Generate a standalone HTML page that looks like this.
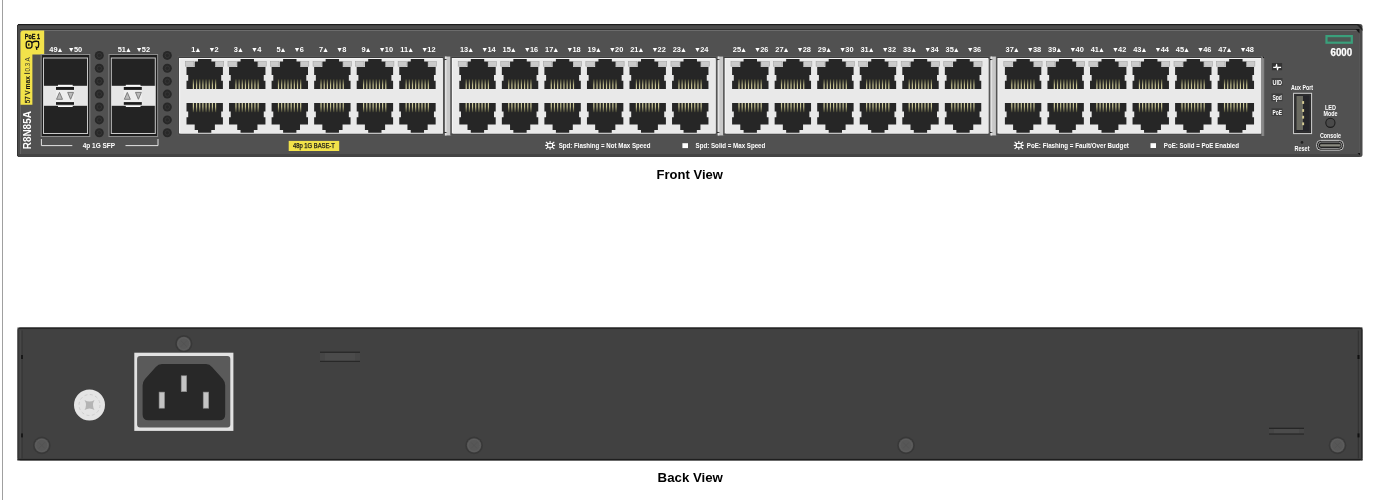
<!DOCTYPE html>
<html><head><meta charset="utf-8"><title>Switch</title>
<style>
html,body{margin:0;padding:0;background:#fff;width:1381px;height:500px;overflow:hidden;}
body{position:relative;font-family:"Liberation Sans", sans-serif;}
svg{position:absolute;left:0;top:0;will-change:transform;}
.cap{position:absolute;font-family:"Liberation Sans", sans-serif;font-weight:bold;font-size:13px;color:#000;white-space:nowrap;}
.vl{position:absolute;left:2px;top:0;width:1px;height:500px;background:#a0a0a0;}
</style></head><body>
<div class="vl"></div>
<svg width="1381" height="500" viewBox="0 0 1381 500" font-family='"Liberation Sans", sans-serif'>
<defs>
<linearGradient id="pinT" x1="0" y1="0" x2="0" y2="1"><stop offset="0" stop-color="#3e3e2c"/><stop offset="0.6" stop-color="#c6c290"/><stop offset="1" stop-color="#d2cfa4"/></linearGradient>
<linearGradient id="pinB" x1="0" y1="0" x2="0" y2="1"><stop offset="0" stop-color="#d2cfa4"/><stop offset="0.4" stop-color="#c6c290"/><stop offset="1" stop-color="#3e3e2c"/></linearGradient>
</defs>
<rect x="17" y="24" width="1345.5" height="133" rx="2.5" fill="#4b4b4b"/>
<rect x="18" y="24" width="1340.5" height="1.2" fill="#1c1c1c"/>
<rect x="17" y="25" width="1" height="131" fill="#333"/>
<rect x="20" y="29" width="1339" height="125" fill="#515151"/>
<rect x="20" y="29" width="1339" height="1" fill="#2f2f2f"/>
<rect x="20" y="30" width="1339" height="1" fill="#6c6c6c"/>
<rect x="20" y="30" width="1" height="124" fill="#646464"/>
<rect x="1359" y="30" width="1" height="124" fill="#575757"/>
<rect x="18" y="154" width="1341" height="3" fill="#444"/>
<path d="M1355.5,29 H1359.5 V33.5 Z" fill="#151515"/>
<path d="M1356,24 Q1361,24.3 1362.5,29 V31 L1360,28 Z" fill="#222"/>
<path d="M1357.5,153 L1360,153 L1360,155.5 Z" fill="#151515"/>
<path d="M20.5,33.5 Q20.5,30.5 23.5,30.5 L44.2,30.5 L44.2,54.4 L32.4,54.4 L32.4,104.8 L20.5,104.8 Z" fill="#f2e24a"/>
<text x="32.4" y="38.5" font-size="6.6" font-weight="bold" fill="#111" text-anchor="middle" textLength="15.2" lengthAdjust="spacingAndGlyphs" stroke="#111" stroke-width="0.3">PoE 1</text>
<g fill="none" stroke="#111" stroke-width="1.3"><path d="M26.2,43.6 Q26.2,41.3 29,41.2 Q31.9,41.2 32,43.6 L32,46 Q31.9,48.2 29,48.2 Q26.2,48.2 26.2,46 Z"/><path d="M32,42.6 Q35.2,40.6 38.4,41.6 Q39.4,44.4 38.3,47 Q37.3,47.9 36.3,47.3 L36.9,49.8"/><path d="M28.8,43.6 v2.2"/></g>
<g transform="translate(29.5,103.2) rotate(-90)"><text x="0" y="0" font-size="6.8" font-weight="normal" fill="#1a1a1a" stroke="#1a1a1a" stroke-width="0.25" textLength="12.6" lengthAdjust="spacingAndGlyphs">57 V</text><text x="13.8" y="0" font-size="6.8" font-weight="bold" fill="#111" textLength="13.4" lengthAdjust="spacingAndGlyphs">max</text><rect x="29.4" y="-5.2" width="0.9" height="5.6" fill="#222"/><text x="31.6" y="0" font-size="6.8" font-weight="normal" fill="#3a3a30" textLength="14.4" lengthAdjust="spacingAndGlyphs">0.3 A</text></g>
<text transform="translate(31.2,149.2) rotate(-90)" font-size="10" font-weight="bold" fill="#fff" textLength="38" lengthAdjust="spacingAndGlyphs">R8N85A</text>
<rect x="41.2" y="54.5" width="48.6" height="82" fill="#1e1e1e" stroke="#8c8c8c" stroke-width="1"/>
<rect x="43.5" y="58.0" width="44.0" height="75.5" fill="#232323" stroke="#c8c8c8" stroke-width="1"/>
<rect x="43.5" y="85.8" width="44.0" height="20" fill="#e6e6e6"/>
<rect x="56.0" y="89.9" width="18" height="12.2" fill="#eeeeee"/>
<rect x="58.0" y="84.8" width="14.7" height="1.4" fill="#fafafa"/>
<rect x="56.0" y="87" width="18" height="2.9" fill="#1a1a1a"/>
<rect x="56.0" y="102.1" width="18" height="2.7" fill="#1a1a1a"/>
<rect x="58.0" y="105.6" width="14.7" height="1.4" fill="#fafafa"/>
<polygon points="56.5,99.3 59.5,92.4 62.5,99.3" fill="#bbbbbb" stroke="#747474" stroke-width="0.9"/>
<polygon points="67.7,92.4 73.5,92.4 70.6,99.3" fill="#bbbbbb" stroke="#747474" stroke-width="0.9"/>
<rect x="109" y="54.5" width="48.6" height="82" fill="#1e1e1e" stroke="#8c8c8c" stroke-width="1"/>
<rect x="111.3" y="58.0" width="44.0" height="75.5" fill="#232323" stroke="#c8c8c8" stroke-width="1"/>
<rect x="111.3" y="85.8" width="44.0" height="20" fill="#e6e6e6"/>
<rect x="123.8" y="89.9" width="18" height="12.2" fill="#eeeeee"/>
<rect x="125.8" y="84.8" width="14.7" height="1.4" fill="#fafafa"/>
<rect x="123.8" y="87" width="18" height="2.9" fill="#1a1a1a"/>
<rect x="123.8" y="102.1" width="18" height="2.7" fill="#1a1a1a"/>
<rect x="125.8" y="105.6" width="14.7" height="1.4" fill="#fafafa"/>
<polygon points="124.3,99.3 127.3,92.4 130.3,99.3" fill="#bbbbbb" stroke="#747474" stroke-width="0.9"/>
<polygon points="135.5,92.4 141.3,92.4 138.4,99.3" fill="#bbbbbb" stroke="#747474" stroke-width="0.9"/>
<circle cx="99.3" cy="55.4" r="4.5" fill="#282828"/>
<circle cx="99.3" cy="55.4" r="2.2" fill="none" stroke="#383838" stroke-width="0.8"/>
<circle cx="99.3" cy="68.3" r="4.5" fill="#282828"/>
<circle cx="99.3" cy="68.3" r="2.2" fill="none" stroke="#383838" stroke-width="0.8"/>
<circle cx="99.3" cy="81.2" r="4.5" fill="#282828"/>
<circle cx="99.3" cy="81.2" r="2.2" fill="none" stroke="#383838" stroke-width="0.8"/>
<circle cx="99.3" cy="94.1" r="4.5" fill="#282828"/>
<circle cx="99.3" cy="94.1" r="2.2" fill="none" stroke="#383838" stroke-width="0.8"/>
<circle cx="99.3" cy="107.0" r="4.5" fill="#282828"/>
<circle cx="99.3" cy="107.0" r="2.2" fill="none" stroke="#383838" stroke-width="0.8"/>
<circle cx="99.3" cy="119.9" r="4.5" fill="#282828"/>
<circle cx="99.3" cy="119.9" r="2.2" fill="none" stroke="#383838" stroke-width="0.8"/>
<circle cx="99.3" cy="132.8" r="4.5" fill="#282828"/>
<circle cx="99.3" cy="132.8" r="2.2" fill="none" stroke="#383838" stroke-width="0.8"/>
<circle cx="167.3" cy="55.4" r="4.5" fill="#282828"/>
<circle cx="167.3" cy="55.4" r="2.2" fill="none" stroke="#383838" stroke-width="0.8"/>
<circle cx="167.3" cy="68.3" r="4.5" fill="#282828"/>
<circle cx="167.3" cy="68.3" r="2.2" fill="none" stroke="#383838" stroke-width="0.8"/>
<circle cx="167.3" cy="81.2" r="4.5" fill="#282828"/>
<circle cx="167.3" cy="81.2" r="2.2" fill="none" stroke="#383838" stroke-width="0.8"/>
<circle cx="167.3" cy="94.1" r="4.5" fill="#282828"/>
<circle cx="167.3" cy="94.1" r="2.2" fill="none" stroke="#383838" stroke-width="0.8"/>
<circle cx="167.3" cy="107.0" r="4.5" fill="#282828"/>
<circle cx="167.3" cy="107.0" r="2.2" fill="none" stroke="#383838" stroke-width="0.8"/>
<circle cx="167.3" cy="119.9" r="4.5" fill="#282828"/>
<circle cx="167.3" cy="119.9" r="2.2" fill="none" stroke="#383838" stroke-width="0.8"/>
<circle cx="167.3" cy="132.8" r="4.5" fill="#282828"/>
<circle cx="167.3" cy="132.8" r="2.2" fill="none" stroke="#383838" stroke-width="0.8"/>
<polygon points="57.9,51.9 60.0,47.9 62.1,51.9" fill="#fff"/>
<text x="57.5" y="52" font-size="7.4" font-weight="bold" fill="#fff" text-anchor="end" >49</text>
<polygon points="69.1,47.9 73.3,47.9 71.2,51.9" fill="#fff"/>
<text x="73.9" y="52" font-size="7.4" font-weight="bold" fill="#fff" text-anchor="start" >50</text>
<polygon points="126.3,51.9 128.4,47.9 130.5,51.9" fill="#fff"/>
<text x="125.9" y="52" font-size="7.4" font-weight="bold" fill="#fff" text-anchor="end" >51</text>
<polygon points="137,47.9 141.2,47.9 139.1,51.9" fill="#fff"/>
<text x="141.8" y="52" font-size="7.4" font-weight="bold" fill="#fff" text-anchor="start" >52</text>
<path d="M41.4,139 V145.6 H72.3 M125.5,145.6 H158 V139" fill="none" stroke="#e4e4e4" stroke-width="1"/>
<text x="98.9" y="148" font-size="6.8" font-weight="bold" fill="#fff" text-anchor="middle" textLength="32.5" lengthAdjust="spacingAndGlyphs" >4p 1G SFP</text>
<rect x="177.5" y="56" width="266.85" height="79.5" fill="#575757"/>
<rect x="178.5" y="57" width="264.85" height="77.5" fill="#3e3e3e"/>
<rect x="179.0" y="58" width="263.85" height="75.5" fill="#f4f4f4"/>
<rect x="180.2" y="59.2" width="262.65" height="74.3" fill="#e9e9e9"/>
<rect x="443.65" y="56" width="8.4" height="80" fill="#5a5a5a"/>
<rect x="444.95" y="56.6" width="5.8" height="78.8" fill="#c8c8c8"/>
<rect x="444.95" y="56.6" width="1.6" height="78.8" fill="#e2e2e2"/>
<path d="M444.45,59 h3 l-3,1.2 z M444.45,133 h3 l-3,-1.2 z" fill="#111"/>
<rect x="185.4" y="61.6" width="8.4" height="4.6" fill="#cacaca" stroke="#a4a4a4" stroke-width="0.6"/>
<rect x="215.4" y="61.6" width="8.3" height="4.6" fill="#cacaca" stroke="#a4a4a4" stroke-width="0.6"/>
<path d="M198.0,58.9 H211.4 V61.6 H215.1 V66.9 H222.9 V75.0 H221.2 V80.8 H222.9 V89.0 H186.5 V80.8 H188.2 V75.0 H186.5 V66.9 H194.7 V61.6 H198.0 Z" fill="#262626"/>
<rect x="192.8" y="79.2" width="1.2" height="9.8" fill="url(#pinT)"/>
<rect x="195.97" y="79.2" width="1.2" height="9.8" fill="url(#pinT)"/>
<rect x="199.14" y="79.2" width="1.2" height="9.8" fill="url(#pinT)"/>
<rect x="202.31" y="79.2" width="1.2" height="9.8" fill="url(#pinT)"/>
<rect x="205.48" y="79.2" width="1.2" height="9.8" fill="url(#pinT)"/>
<rect x="208.65" y="79.2" width="1.2" height="9.8" fill="url(#pinT)"/>
<rect x="211.82" y="79.2" width="1.2" height="9.8" fill="url(#pinT)"/>
<rect x="214.99" y="79.2" width="1.2" height="9.8" fill="url(#pinT)"/>
<path d="M186.5,103 H222.9 V111.6 H221.2 V117.2 H222.9 V124.4 H214.9 V130 H211.3 V132.8 H198.0 V130 H194.7 V124.4 H186.5 V117.2 H188.2 V111.6 H186.5 Z" fill="#262626"/>
<rect x="192.8" y="103" width="1.2" height="9.2" fill="url(#pinB)"/>
<rect x="195.97" y="103" width="1.2" height="9.2" fill="url(#pinB)"/>
<rect x="199.14" y="103" width="1.2" height="9.2" fill="url(#pinB)"/>
<rect x="202.31" y="103" width="1.2" height="9.2" fill="url(#pinB)"/>
<rect x="205.48" y="103" width="1.2" height="9.2" fill="url(#pinB)"/>
<rect x="208.65" y="103" width="1.2" height="9.2" fill="url(#pinB)"/>
<rect x="211.82" y="103" width="1.2" height="9.2" fill="url(#pinB)"/>
<rect x="214.99" y="103" width="1.2" height="9.2" fill="url(#pinB)"/>
<polygon points="195.8,51.9 197.9,47.9 200.0,51.9" fill="#fff"/>
<text x="195.4" y="52" font-size="7.4" font-weight="bold" fill="#fff" text-anchor="end" >1</text>
<polygon points="209.8,47.9 214.0,47.9 211.9,51.9" fill="#fff"/>
<text x="214.6" y="52" font-size="7.4" font-weight="bold" fill="#fff" text-anchor="start" >2</text>
<rect x="227.95" y="61.6" width="8.4" height="4.6" fill="#cacaca" stroke="#a4a4a4" stroke-width="0.6"/>
<rect x="257.95" y="61.6" width="8.3" height="4.6" fill="#cacaca" stroke="#a4a4a4" stroke-width="0.6"/>
<path d="M240.55,58.9 H253.95 V61.6 H257.65 V66.9 H265.45 V75.0 H263.75 V80.8 H265.45 V89.0 H229.05 V80.8 H230.75 V75.0 H229.05 V66.9 H237.25 V61.6 H240.55 Z" fill="#262626"/>
<rect x="235.35" y="79.2" width="1.2" height="9.8" fill="url(#pinT)"/>
<rect x="238.52" y="79.2" width="1.2" height="9.8" fill="url(#pinT)"/>
<rect x="241.69" y="79.2" width="1.2" height="9.8" fill="url(#pinT)"/>
<rect x="244.86" y="79.2" width="1.2" height="9.8" fill="url(#pinT)"/>
<rect x="248.03" y="79.2" width="1.2" height="9.8" fill="url(#pinT)"/>
<rect x="251.2" y="79.2" width="1.2" height="9.8" fill="url(#pinT)"/>
<rect x="254.37" y="79.2" width="1.2" height="9.8" fill="url(#pinT)"/>
<rect x="257.54" y="79.2" width="1.2" height="9.8" fill="url(#pinT)"/>
<path d="M229.05,103 H265.45 V111.6 H263.75 V117.2 H265.45 V124.4 H257.45 V130 H253.85 V132.8 H240.55 V130 H237.25 V124.4 H229.05 V117.2 H230.75 V111.6 H229.05 Z" fill="#262626"/>
<rect x="235.35" y="103" width="1.2" height="9.2" fill="url(#pinB)"/>
<rect x="238.52" y="103" width="1.2" height="9.2" fill="url(#pinB)"/>
<rect x="241.69" y="103" width="1.2" height="9.2" fill="url(#pinB)"/>
<rect x="244.86" y="103" width="1.2" height="9.2" fill="url(#pinB)"/>
<rect x="248.03" y="103" width="1.2" height="9.2" fill="url(#pinB)"/>
<rect x="251.2" y="103" width="1.2" height="9.2" fill="url(#pinB)"/>
<rect x="254.37" y="103" width="1.2" height="9.2" fill="url(#pinB)"/>
<rect x="257.54" y="103" width="1.2" height="9.2" fill="url(#pinB)"/>
<polygon points="238.35,51.9 240.45,47.9 242.55,51.9" fill="#fff"/>
<text x="237.95" y="52" font-size="7.4" font-weight="bold" fill="#fff" text-anchor="end" >3</text>
<polygon points="252.35,47.9 256.55,47.9 254.45,51.9" fill="#fff"/>
<text x="257.15" y="52" font-size="7.4" font-weight="bold" fill="#fff" text-anchor="start" >4</text>
<rect x="270.5" y="61.6" width="8.4" height="4.6" fill="#cacaca" stroke="#a4a4a4" stroke-width="0.6"/>
<rect x="300.5" y="61.6" width="8.3" height="4.6" fill="#cacaca" stroke="#a4a4a4" stroke-width="0.6"/>
<path d="M283.1,58.9 H296.5 V61.6 H300.2 V66.9 H308.0 V75.0 H306.3 V80.8 H308.0 V89.0 H271.6 V80.8 H273.3 V75.0 H271.6 V66.9 H279.8 V61.6 H283.1 Z" fill="#262626"/>
<rect x="277.9" y="79.2" width="1.2" height="9.8" fill="url(#pinT)"/>
<rect x="281.07" y="79.2" width="1.2" height="9.8" fill="url(#pinT)"/>
<rect x="284.24" y="79.2" width="1.2" height="9.8" fill="url(#pinT)"/>
<rect x="287.41" y="79.2" width="1.2" height="9.8" fill="url(#pinT)"/>
<rect x="290.58" y="79.2" width="1.2" height="9.8" fill="url(#pinT)"/>
<rect x="293.75" y="79.2" width="1.2" height="9.8" fill="url(#pinT)"/>
<rect x="296.92" y="79.2" width="1.2" height="9.8" fill="url(#pinT)"/>
<rect x="300.09" y="79.2" width="1.2" height="9.8" fill="url(#pinT)"/>
<path d="M271.6,103 H308.0 V111.6 H306.3 V117.2 H308.0 V124.4 H300.0 V130 H296.4 V132.8 H283.1 V130 H279.8 V124.4 H271.6 V117.2 H273.3 V111.6 H271.6 Z" fill="#262626"/>
<rect x="277.9" y="103" width="1.2" height="9.2" fill="url(#pinB)"/>
<rect x="281.07" y="103" width="1.2" height="9.2" fill="url(#pinB)"/>
<rect x="284.24" y="103" width="1.2" height="9.2" fill="url(#pinB)"/>
<rect x="287.41" y="103" width="1.2" height="9.2" fill="url(#pinB)"/>
<rect x="290.58" y="103" width="1.2" height="9.2" fill="url(#pinB)"/>
<rect x="293.75" y="103" width="1.2" height="9.2" fill="url(#pinB)"/>
<rect x="296.92" y="103" width="1.2" height="9.2" fill="url(#pinB)"/>
<rect x="300.09" y="103" width="1.2" height="9.2" fill="url(#pinB)"/>
<polygon points="280.9,51.9 283,47.9 285.1,51.9" fill="#fff"/>
<text x="280.5" y="52" font-size="7.4" font-weight="bold" fill="#fff" text-anchor="end" >5</text>
<polygon points="294.9,47.9 299.1,47.9 297,51.9" fill="#fff"/>
<text x="299.7" y="52" font-size="7.4" font-weight="bold" fill="#fff" text-anchor="start" >6</text>
<rect x="313.05" y="61.6" width="8.4" height="4.6" fill="#cacaca" stroke="#a4a4a4" stroke-width="0.6"/>
<rect x="343.05" y="61.6" width="8.3" height="4.6" fill="#cacaca" stroke="#a4a4a4" stroke-width="0.6"/>
<path d="M325.65,58.9 H339.05 V61.6 H342.75 V66.9 H350.55 V75.0 H348.85 V80.8 H350.55 V89.0 H314.15 V80.8 H315.85 V75.0 H314.15 V66.9 H322.35 V61.6 H325.65 Z" fill="#262626"/>
<rect x="320.45" y="79.2" width="1.2" height="9.8" fill="url(#pinT)"/>
<rect x="323.62" y="79.2" width="1.2" height="9.8" fill="url(#pinT)"/>
<rect x="326.79" y="79.2" width="1.2" height="9.8" fill="url(#pinT)"/>
<rect x="329.96" y="79.2" width="1.2" height="9.8" fill="url(#pinT)"/>
<rect x="333.13" y="79.2" width="1.2" height="9.8" fill="url(#pinT)"/>
<rect x="336.3" y="79.2" width="1.2" height="9.8" fill="url(#pinT)"/>
<rect x="339.47" y="79.2" width="1.2" height="9.8" fill="url(#pinT)"/>
<rect x="342.64" y="79.2" width="1.2" height="9.8" fill="url(#pinT)"/>
<path d="M314.15,103 H350.55 V111.6 H348.85 V117.2 H350.55 V124.4 H342.55 V130 H338.95 V132.8 H325.65 V130 H322.35 V124.4 H314.15 V117.2 H315.85 V111.6 H314.15 Z" fill="#262626"/>
<rect x="320.45" y="103" width="1.2" height="9.2" fill="url(#pinB)"/>
<rect x="323.62" y="103" width="1.2" height="9.2" fill="url(#pinB)"/>
<rect x="326.79" y="103" width="1.2" height="9.2" fill="url(#pinB)"/>
<rect x="329.96" y="103" width="1.2" height="9.2" fill="url(#pinB)"/>
<rect x="333.13" y="103" width="1.2" height="9.2" fill="url(#pinB)"/>
<rect x="336.3" y="103" width="1.2" height="9.2" fill="url(#pinB)"/>
<rect x="339.47" y="103" width="1.2" height="9.2" fill="url(#pinB)"/>
<rect x="342.64" y="103" width="1.2" height="9.2" fill="url(#pinB)"/>
<polygon points="323.45,51.9 325.55,47.9 327.65,51.9" fill="#fff"/>
<text x="323.05" y="52" font-size="7.4" font-weight="bold" fill="#fff" text-anchor="end" >7</text>
<polygon points="337.45,47.9 341.65,47.9 339.55,51.9" fill="#fff"/>
<text x="342.25" y="52" font-size="7.4" font-weight="bold" fill="#fff" text-anchor="start" >8</text>
<rect x="355.6" y="61.6" width="8.4" height="4.6" fill="#cacaca" stroke="#a4a4a4" stroke-width="0.6"/>
<rect x="385.6" y="61.6" width="8.3" height="4.6" fill="#cacaca" stroke="#a4a4a4" stroke-width="0.6"/>
<path d="M368.2,58.9 H381.6 V61.6 H385.3 V66.9 H393.1 V75.0 H391.4 V80.8 H393.1 V89.0 H356.7 V80.8 H358.4 V75.0 H356.7 V66.9 H364.9 V61.6 H368.2 Z" fill="#262626"/>
<rect x="363.0" y="79.2" width="1.2" height="9.8" fill="url(#pinT)"/>
<rect x="366.17" y="79.2" width="1.2" height="9.8" fill="url(#pinT)"/>
<rect x="369.34" y="79.2" width="1.2" height="9.8" fill="url(#pinT)"/>
<rect x="372.51" y="79.2" width="1.2" height="9.8" fill="url(#pinT)"/>
<rect x="375.68" y="79.2" width="1.2" height="9.8" fill="url(#pinT)"/>
<rect x="378.85" y="79.2" width="1.2" height="9.8" fill="url(#pinT)"/>
<rect x="382.02" y="79.2" width="1.2" height="9.8" fill="url(#pinT)"/>
<rect x="385.19" y="79.2" width="1.2" height="9.8" fill="url(#pinT)"/>
<path d="M356.7,103 H393.1 V111.6 H391.4 V117.2 H393.1 V124.4 H385.1 V130 H381.5 V132.8 H368.2 V130 H364.9 V124.4 H356.7 V117.2 H358.4 V111.6 H356.7 Z" fill="#262626"/>
<rect x="363.0" y="103" width="1.2" height="9.2" fill="url(#pinB)"/>
<rect x="366.17" y="103" width="1.2" height="9.2" fill="url(#pinB)"/>
<rect x="369.34" y="103" width="1.2" height="9.2" fill="url(#pinB)"/>
<rect x="372.51" y="103" width="1.2" height="9.2" fill="url(#pinB)"/>
<rect x="375.68" y="103" width="1.2" height="9.2" fill="url(#pinB)"/>
<rect x="378.85" y="103" width="1.2" height="9.2" fill="url(#pinB)"/>
<rect x="382.02" y="103" width="1.2" height="9.2" fill="url(#pinB)"/>
<rect x="385.19" y="103" width="1.2" height="9.2" fill="url(#pinB)"/>
<polygon points="366.0,51.9 368.1,47.9 370.2,51.9" fill="#fff"/>
<text x="365.6" y="52" font-size="7.4" font-weight="bold" fill="#fff" text-anchor="end" >9</text>
<polygon points="380.0,47.9 384.2,47.9 382.1,51.9" fill="#fff"/>
<text x="384.8" y="52" font-size="7.4" font-weight="bold" fill="#fff" text-anchor="start" >10</text>
<rect x="398.15" y="61.6" width="8.4" height="4.6" fill="#cacaca" stroke="#a4a4a4" stroke-width="0.6"/>
<rect x="428.15" y="61.6" width="8.3" height="4.6" fill="#cacaca" stroke="#a4a4a4" stroke-width="0.6"/>
<path d="M410.75,58.9 H424.15 V61.6 H427.85 V66.9 H435.65 V75.0 H433.95 V80.8 H435.65 V89.0 H399.25 V80.8 H400.95 V75.0 H399.25 V66.9 H407.45 V61.6 H410.75 Z" fill="#262626"/>
<rect x="405.55" y="79.2" width="1.2" height="9.8" fill="url(#pinT)"/>
<rect x="408.72" y="79.2" width="1.2" height="9.8" fill="url(#pinT)"/>
<rect x="411.89" y="79.2" width="1.2" height="9.8" fill="url(#pinT)"/>
<rect x="415.06" y="79.2" width="1.2" height="9.8" fill="url(#pinT)"/>
<rect x="418.23" y="79.2" width="1.2" height="9.8" fill="url(#pinT)"/>
<rect x="421.4" y="79.2" width="1.2" height="9.8" fill="url(#pinT)"/>
<rect x="424.57" y="79.2" width="1.2" height="9.8" fill="url(#pinT)"/>
<rect x="427.74" y="79.2" width="1.2" height="9.8" fill="url(#pinT)"/>
<path d="M399.25,103 H435.65 V111.6 H433.95 V117.2 H435.65 V124.4 H427.65 V130 H424.05 V132.8 H410.75 V130 H407.45 V124.4 H399.25 V117.2 H400.95 V111.6 H399.25 Z" fill="#262626"/>
<rect x="405.55" y="103" width="1.2" height="9.2" fill="url(#pinB)"/>
<rect x="408.72" y="103" width="1.2" height="9.2" fill="url(#pinB)"/>
<rect x="411.89" y="103" width="1.2" height="9.2" fill="url(#pinB)"/>
<rect x="415.06" y="103" width="1.2" height="9.2" fill="url(#pinB)"/>
<rect x="418.23" y="103" width="1.2" height="9.2" fill="url(#pinB)"/>
<rect x="421.4" y="103" width="1.2" height="9.2" fill="url(#pinB)"/>
<rect x="424.57" y="103" width="1.2" height="9.2" fill="url(#pinB)"/>
<rect x="427.74" y="103" width="1.2" height="9.2" fill="url(#pinB)"/>
<polygon points="408.55,51.9 410.65,47.9 412.75,51.9" fill="#fff"/>
<text x="408.15" y="52" font-size="7.4" font-weight="bold" fill="#fff" text-anchor="end" >11</text>
<polygon points="422.55,47.9 426.75,47.9 424.65,51.9" fill="#fff"/>
<text x="427.35" y="52" font-size="7.4" font-weight="bold" fill="#fff" text-anchor="start" >12</text>
<rect x="450.3" y="56" width="266.85" height="79.5" fill="#575757"/>
<rect x="451.3" y="57" width="264.85" height="77.5" fill="#3e3e3e"/>
<rect x="451.8" y="58" width="263.85" height="75.5" fill="#f4f4f4"/>
<rect x="453.0" y="59.2" width="262.65" height="74.3" fill="#e9e9e9"/>
<rect x="716.45" y="56" width="8.4" height="80" fill="#5a5a5a"/>
<rect x="717.75" y="56.6" width="5.8" height="78.8" fill="#c8c8c8"/>
<rect x="717.75" y="56.6" width="1.6" height="78.8" fill="#e2e2e2"/>
<path d="M717.25,59 h3 l-3,1.2 z M717.25,133 h3 l-3,-1.2 z" fill="#111"/>
<rect x="458.2" y="61.6" width="8.4" height="4.6" fill="#cacaca" stroke="#a4a4a4" stroke-width="0.6"/>
<rect x="488.2" y="61.6" width="8.3" height="4.6" fill="#cacaca" stroke="#a4a4a4" stroke-width="0.6"/>
<path d="M470.8,58.9 H484.2 V61.6 H487.9 V66.9 H495.7 V75.0 H494.0 V80.8 H495.7 V89.0 H459.3 V80.8 H461.0 V75.0 H459.3 V66.9 H467.5 V61.6 H470.8 Z" fill="#262626"/>
<rect x="465.6" y="79.2" width="1.2" height="9.8" fill="url(#pinT)"/>
<rect x="468.77" y="79.2" width="1.2" height="9.8" fill="url(#pinT)"/>
<rect x="471.94" y="79.2" width="1.2" height="9.8" fill="url(#pinT)"/>
<rect x="475.11" y="79.2" width="1.2" height="9.8" fill="url(#pinT)"/>
<rect x="478.28" y="79.2" width="1.2" height="9.8" fill="url(#pinT)"/>
<rect x="481.45" y="79.2" width="1.2" height="9.8" fill="url(#pinT)"/>
<rect x="484.62" y="79.2" width="1.2" height="9.8" fill="url(#pinT)"/>
<rect x="487.79" y="79.2" width="1.2" height="9.8" fill="url(#pinT)"/>
<path d="M459.3,103 H495.7 V111.6 H494.0 V117.2 H495.7 V124.4 H487.7 V130 H484.1 V132.8 H470.8 V130 H467.5 V124.4 H459.3 V117.2 H461.0 V111.6 H459.3 Z" fill="#262626"/>
<rect x="465.6" y="103" width="1.2" height="9.2" fill="url(#pinB)"/>
<rect x="468.77" y="103" width="1.2" height="9.2" fill="url(#pinB)"/>
<rect x="471.94" y="103" width="1.2" height="9.2" fill="url(#pinB)"/>
<rect x="475.11" y="103" width="1.2" height="9.2" fill="url(#pinB)"/>
<rect x="478.28" y="103" width="1.2" height="9.2" fill="url(#pinB)"/>
<rect x="481.45" y="103" width="1.2" height="9.2" fill="url(#pinB)"/>
<rect x="484.62" y="103" width="1.2" height="9.2" fill="url(#pinB)"/>
<rect x="487.79" y="103" width="1.2" height="9.2" fill="url(#pinB)"/>
<polygon points="468.6,51.9 470.7,47.9 472.8,51.9" fill="#fff"/>
<text x="468.2" y="52" font-size="7.4" font-weight="bold" fill="#fff" text-anchor="end" >13</text>
<polygon points="482.6,47.9 486.8,47.9 484.7,51.9" fill="#fff"/>
<text x="487.4" y="52" font-size="7.4" font-weight="bold" fill="#fff" text-anchor="start" >14</text>
<rect x="500.75" y="61.6" width="8.4" height="4.6" fill="#cacaca" stroke="#a4a4a4" stroke-width="0.6"/>
<rect x="530.75" y="61.6" width="8.3" height="4.6" fill="#cacaca" stroke="#a4a4a4" stroke-width="0.6"/>
<path d="M513.35,58.9 H526.75 V61.6 H530.45 V66.9 H538.25 V75.0 H536.55 V80.8 H538.25 V89.0 H501.85 V80.8 H503.55 V75.0 H501.85 V66.9 H510.05 V61.6 H513.35 Z" fill="#262626"/>
<rect x="508.15" y="79.2" width="1.2" height="9.8" fill="url(#pinT)"/>
<rect x="511.32" y="79.2" width="1.2" height="9.8" fill="url(#pinT)"/>
<rect x="514.49" y="79.2" width="1.2" height="9.8" fill="url(#pinT)"/>
<rect x="517.66" y="79.2" width="1.2" height="9.8" fill="url(#pinT)"/>
<rect x="520.83" y="79.2" width="1.2" height="9.8" fill="url(#pinT)"/>
<rect x="524.0" y="79.2" width="1.2" height="9.8" fill="url(#pinT)"/>
<rect x="527.17" y="79.2" width="1.2" height="9.8" fill="url(#pinT)"/>
<rect x="530.34" y="79.2" width="1.2" height="9.8" fill="url(#pinT)"/>
<path d="M501.85,103 H538.25 V111.6 H536.55 V117.2 H538.25 V124.4 H530.25 V130 H526.65 V132.8 H513.35 V130 H510.05 V124.4 H501.85 V117.2 H503.55 V111.6 H501.85 Z" fill="#262626"/>
<rect x="508.15" y="103" width="1.2" height="9.2" fill="url(#pinB)"/>
<rect x="511.32" y="103" width="1.2" height="9.2" fill="url(#pinB)"/>
<rect x="514.49" y="103" width="1.2" height="9.2" fill="url(#pinB)"/>
<rect x="517.66" y="103" width="1.2" height="9.2" fill="url(#pinB)"/>
<rect x="520.83" y="103" width="1.2" height="9.2" fill="url(#pinB)"/>
<rect x="524.0" y="103" width="1.2" height="9.2" fill="url(#pinB)"/>
<rect x="527.17" y="103" width="1.2" height="9.2" fill="url(#pinB)"/>
<rect x="530.34" y="103" width="1.2" height="9.2" fill="url(#pinB)"/>
<polygon points="511.15,51.9 513.25,47.9 515.35,51.9" fill="#fff"/>
<text x="510.75" y="52" font-size="7.4" font-weight="bold" fill="#fff" text-anchor="end" >15</text>
<polygon points="525.15,47.9 529.35,47.9 527.25,51.9" fill="#fff"/>
<text x="529.95" y="52" font-size="7.4" font-weight="bold" fill="#fff" text-anchor="start" >16</text>
<rect x="543.3" y="61.6" width="8.4" height="4.6" fill="#cacaca" stroke="#a4a4a4" stroke-width="0.6"/>
<rect x="573.3" y="61.6" width="8.3" height="4.6" fill="#cacaca" stroke="#a4a4a4" stroke-width="0.6"/>
<path d="M555.9,58.9 H569.3 V61.6 H573.0 V66.9 H580.8 V75.0 H579.1 V80.8 H580.8 V89.0 H544.4 V80.8 H546.1 V75.0 H544.4 V66.9 H552.6 V61.6 H555.9 Z" fill="#262626"/>
<rect x="550.7" y="79.2" width="1.2" height="9.8" fill="url(#pinT)"/>
<rect x="553.87" y="79.2" width="1.2" height="9.8" fill="url(#pinT)"/>
<rect x="557.04" y="79.2" width="1.2" height="9.8" fill="url(#pinT)"/>
<rect x="560.21" y="79.2" width="1.2" height="9.8" fill="url(#pinT)"/>
<rect x="563.38" y="79.2" width="1.2" height="9.8" fill="url(#pinT)"/>
<rect x="566.55" y="79.2" width="1.2" height="9.8" fill="url(#pinT)"/>
<rect x="569.72" y="79.2" width="1.2" height="9.8" fill="url(#pinT)"/>
<rect x="572.89" y="79.2" width="1.2" height="9.8" fill="url(#pinT)"/>
<path d="M544.4,103 H580.8 V111.6 H579.1 V117.2 H580.8 V124.4 H572.8 V130 H569.2 V132.8 H555.9 V130 H552.6 V124.4 H544.4 V117.2 H546.1 V111.6 H544.4 Z" fill="#262626"/>
<rect x="550.7" y="103" width="1.2" height="9.2" fill="url(#pinB)"/>
<rect x="553.87" y="103" width="1.2" height="9.2" fill="url(#pinB)"/>
<rect x="557.04" y="103" width="1.2" height="9.2" fill="url(#pinB)"/>
<rect x="560.21" y="103" width="1.2" height="9.2" fill="url(#pinB)"/>
<rect x="563.38" y="103" width="1.2" height="9.2" fill="url(#pinB)"/>
<rect x="566.55" y="103" width="1.2" height="9.2" fill="url(#pinB)"/>
<rect x="569.72" y="103" width="1.2" height="9.2" fill="url(#pinB)"/>
<rect x="572.89" y="103" width="1.2" height="9.2" fill="url(#pinB)"/>
<polygon points="553.7,51.9 555.8,47.9 557.9,51.9" fill="#fff"/>
<text x="553.3" y="52" font-size="7.4" font-weight="bold" fill="#fff" text-anchor="end" >17</text>
<polygon points="567.7,47.9 571.9,47.9 569.8,51.9" fill="#fff"/>
<text x="572.5" y="52" font-size="7.4" font-weight="bold" fill="#fff" text-anchor="start" >18</text>
<rect x="585.85" y="61.6" width="8.4" height="4.6" fill="#cacaca" stroke="#a4a4a4" stroke-width="0.6"/>
<rect x="615.85" y="61.6" width="8.3" height="4.6" fill="#cacaca" stroke="#a4a4a4" stroke-width="0.6"/>
<path d="M598.45,58.9 H611.85 V61.6 H615.55 V66.9 H623.35 V75.0 H621.65 V80.8 H623.35 V89.0 H586.95 V80.8 H588.65 V75.0 H586.95 V66.9 H595.15 V61.6 H598.45 Z" fill="#262626"/>
<rect x="593.25" y="79.2" width="1.2" height="9.8" fill="url(#pinT)"/>
<rect x="596.42" y="79.2" width="1.2" height="9.8" fill="url(#pinT)"/>
<rect x="599.59" y="79.2" width="1.2" height="9.8" fill="url(#pinT)"/>
<rect x="602.76" y="79.2" width="1.2" height="9.8" fill="url(#pinT)"/>
<rect x="605.93" y="79.2" width="1.2" height="9.8" fill="url(#pinT)"/>
<rect x="609.1" y="79.2" width="1.2" height="9.8" fill="url(#pinT)"/>
<rect x="612.27" y="79.2" width="1.2" height="9.8" fill="url(#pinT)"/>
<rect x="615.44" y="79.2" width="1.2" height="9.8" fill="url(#pinT)"/>
<path d="M586.95,103 H623.35 V111.6 H621.65 V117.2 H623.35 V124.4 H615.35 V130 H611.75 V132.8 H598.45 V130 H595.15 V124.4 H586.95 V117.2 H588.65 V111.6 H586.95 Z" fill="#262626"/>
<rect x="593.25" y="103" width="1.2" height="9.2" fill="url(#pinB)"/>
<rect x="596.42" y="103" width="1.2" height="9.2" fill="url(#pinB)"/>
<rect x="599.59" y="103" width="1.2" height="9.2" fill="url(#pinB)"/>
<rect x="602.76" y="103" width="1.2" height="9.2" fill="url(#pinB)"/>
<rect x="605.93" y="103" width="1.2" height="9.2" fill="url(#pinB)"/>
<rect x="609.1" y="103" width="1.2" height="9.2" fill="url(#pinB)"/>
<rect x="612.27" y="103" width="1.2" height="9.2" fill="url(#pinB)"/>
<rect x="615.44" y="103" width="1.2" height="9.2" fill="url(#pinB)"/>
<polygon points="596.25,51.9 598.35,47.9 600.45,51.9" fill="#fff"/>
<text x="595.85" y="52" font-size="7.4" font-weight="bold" fill="#fff" text-anchor="end" >19</text>
<polygon points="610.25,47.9 614.45,47.9 612.35,51.9" fill="#fff"/>
<text x="615.05" y="52" font-size="7.4" font-weight="bold" fill="#fff" text-anchor="start" >20</text>
<rect x="628.4" y="61.6" width="8.4" height="4.6" fill="#cacaca" stroke="#a4a4a4" stroke-width="0.6"/>
<rect x="658.4" y="61.6" width="8.3" height="4.6" fill="#cacaca" stroke="#a4a4a4" stroke-width="0.6"/>
<path d="M641.0,58.9 H654.4 V61.6 H658.1 V66.9 H665.9 V75.0 H664.2 V80.8 H665.9 V89.0 H629.5 V80.8 H631.2 V75.0 H629.5 V66.9 H637.7 V61.6 H641.0 Z" fill="#262626"/>
<rect x="635.8" y="79.2" width="1.2" height="9.8" fill="url(#pinT)"/>
<rect x="638.97" y="79.2" width="1.2" height="9.8" fill="url(#pinT)"/>
<rect x="642.14" y="79.2" width="1.2" height="9.8" fill="url(#pinT)"/>
<rect x="645.31" y="79.2" width="1.2" height="9.8" fill="url(#pinT)"/>
<rect x="648.48" y="79.2" width="1.2" height="9.8" fill="url(#pinT)"/>
<rect x="651.65" y="79.2" width="1.2" height="9.8" fill="url(#pinT)"/>
<rect x="654.82" y="79.2" width="1.2" height="9.8" fill="url(#pinT)"/>
<rect x="657.99" y="79.2" width="1.2" height="9.8" fill="url(#pinT)"/>
<path d="M629.5,103 H665.9 V111.6 H664.2 V117.2 H665.9 V124.4 H657.9 V130 H654.3 V132.8 H641.0 V130 H637.7 V124.4 H629.5 V117.2 H631.2 V111.6 H629.5 Z" fill="#262626"/>
<rect x="635.8" y="103" width="1.2" height="9.2" fill="url(#pinB)"/>
<rect x="638.97" y="103" width="1.2" height="9.2" fill="url(#pinB)"/>
<rect x="642.14" y="103" width="1.2" height="9.2" fill="url(#pinB)"/>
<rect x="645.31" y="103" width="1.2" height="9.2" fill="url(#pinB)"/>
<rect x="648.48" y="103" width="1.2" height="9.2" fill="url(#pinB)"/>
<rect x="651.65" y="103" width="1.2" height="9.2" fill="url(#pinB)"/>
<rect x="654.82" y="103" width="1.2" height="9.2" fill="url(#pinB)"/>
<rect x="657.99" y="103" width="1.2" height="9.2" fill="url(#pinB)"/>
<polygon points="638.8,51.9 640.9,47.9 643.0,51.9" fill="#fff"/>
<text x="638.4" y="52" font-size="7.4" font-weight="bold" fill="#fff" text-anchor="end" >21</text>
<polygon points="652.8,47.9 657.0,47.9 654.9,51.9" fill="#fff"/>
<text x="657.6" y="52" font-size="7.4" font-weight="bold" fill="#fff" text-anchor="start" >22</text>
<rect x="670.95" y="61.6" width="8.4" height="4.6" fill="#cacaca" stroke="#a4a4a4" stroke-width="0.6"/>
<rect x="700.95" y="61.6" width="8.3" height="4.6" fill="#cacaca" stroke="#a4a4a4" stroke-width="0.6"/>
<path d="M683.55,58.9 H696.95 V61.6 H700.65 V66.9 H708.45 V75.0 H706.75 V80.8 H708.45 V89.0 H672.05 V80.8 H673.75 V75.0 H672.05 V66.9 H680.25 V61.6 H683.55 Z" fill="#262626"/>
<rect x="678.35" y="79.2" width="1.2" height="9.8" fill="url(#pinT)"/>
<rect x="681.52" y="79.2" width="1.2" height="9.8" fill="url(#pinT)"/>
<rect x="684.69" y="79.2" width="1.2" height="9.8" fill="url(#pinT)"/>
<rect x="687.86" y="79.2" width="1.2" height="9.8" fill="url(#pinT)"/>
<rect x="691.03" y="79.2" width="1.2" height="9.8" fill="url(#pinT)"/>
<rect x="694.2" y="79.2" width="1.2" height="9.8" fill="url(#pinT)"/>
<rect x="697.37" y="79.2" width="1.2" height="9.8" fill="url(#pinT)"/>
<rect x="700.54" y="79.2" width="1.2" height="9.8" fill="url(#pinT)"/>
<path d="M672.05,103 H708.45 V111.6 H706.75 V117.2 H708.45 V124.4 H700.45 V130 H696.85 V132.8 H683.55 V130 H680.25 V124.4 H672.05 V117.2 H673.75 V111.6 H672.05 Z" fill="#262626"/>
<rect x="678.35" y="103" width="1.2" height="9.2" fill="url(#pinB)"/>
<rect x="681.52" y="103" width="1.2" height="9.2" fill="url(#pinB)"/>
<rect x="684.69" y="103" width="1.2" height="9.2" fill="url(#pinB)"/>
<rect x="687.86" y="103" width="1.2" height="9.2" fill="url(#pinB)"/>
<rect x="691.03" y="103" width="1.2" height="9.2" fill="url(#pinB)"/>
<rect x="694.2" y="103" width="1.2" height="9.2" fill="url(#pinB)"/>
<rect x="697.37" y="103" width="1.2" height="9.2" fill="url(#pinB)"/>
<rect x="700.54" y="103" width="1.2" height="9.2" fill="url(#pinB)"/>
<polygon points="681.35,51.9 683.45,47.9 685.55,51.9" fill="#fff"/>
<text x="680.95" y="52" font-size="7.4" font-weight="bold" fill="#fff" text-anchor="end" >23</text>
<polygon points="695.35,47.9 699.55,47.9 697.45,51.9" fill="#fff"/>
<text x="700.15" y="52" font-size="7.4" font-weight="bold" fill="#fff" text-anchor="start" >24</text>
<rect x="723.1" y="56" width="266.85" height="79.5" fill="#575757"/>
<rect x="724.1" y="57" width="264.85" height="77.5" fill="#3e3e3e"/>
<rect x="724.6" y="58" width="263.85" height="75.5" fill="#f4f4f4"/>
<rect x="725.8" y="59.2" width="262.65" height="74.3" fill="#e9e9e9"/>
<rect x="989.25" y="56" width="8.4" height="80" fill="#5a5a5a"/>
<rect x="990.55" y="56.6" width="5.8" height="78.8" fill="#c8c8c8"/>
<rect x="990.55" y="56.6" width="1.6" height="78.8" fill="#e2e2e2"/>
<path d="M990.05,59 h3 l-3,1.2 z M990.05,133 h3 l-3,-1.2 z" fill="#111"/>
<rect x="731.0" y="61.6" width="8.4" height="4.6" fill="#cacaca" stroke="#a4a4a4" stroke-width="0.6"/>
<rect x="761.0" y="61.6" width="8.3" height="4.6" fill="#cacaca" stroke="#a4a4a4" stroke-width="0.6"/>
<path d="M743.6,58.9 H757.0 V61.6 H760.7 V66.9 H768.5 V75.0 H766.8 V80.8 H768.5 V89.0 H732.1 V80.8 H733.8 V75.0 H732.1 V66.9 H740.3 V61.6 H743.6 Z" fill="#262626"/>
<rect x="738.4" y="79.2" width="1.2" height="9.8" fill="url(#pinT)"/>
<rect x="741.57" y="79.2" width="1.2" height="9.8" fill="url(#pinT)"/>
<rect x="744.74" y="79.2" width="1.2" height="9.8" fill="url(#pinT)"/>
<rect x="747.91" y="79.2" width="1.2" height="9.8" fill="url(#pinT)"/>
<rect x="751.08" y="79.2" width="1.2" height="9.8" fill="url(#pinT)"/>
<rect x="754.25" y="79.2" width="1.2" height="9.8" fill="url(#pinT)"/>
<rect x="757.42" y="79.2" width="1.2" height="9.8" fill="url(#pinT)"/>
<rect x="760.59" y="79.2" width="1.2" height="9.8" fill="url(#pinT)"/>
<path d="M732.1,103 H768.5 V111.6 H766.8 V117.2 H768.5 V124.4 H760.5 V130 H756.9 V132.8 H743.6 V130 H740.3 V124.4 H732.1 V117.2 H733.8 V111.6 H732.1 Z" fill="#262626"/>
<rect x="738.4" y="103" width="1.2" height="9.2" fill="url(#pinB)"/>
<rect x="741.57" y="103" width="1.2" height="9.2" fill="url(#pinB)"/>
<rect x="744.74" y="103" width="1.2" height="9.2" fill="url(#pinB)"/>
<rect x="747.91" y="103" width="1.2" height="9.2" fill="url(#pinB)"/>
<rect x="751.08" y="103" width="1.2" height="9.2" fill="url(#pinB)"/>
<rect x="754.25" y="103" width="1.2" height="9.2" fill="url(#pinB)"/>
<rect x="757.42" y="103" width="1.2" height="9.2" fill="url(#pinB)"/>
<rect x="760.59" y="103" width="1.2" height="9.2" fill="url(#pinB)"/>
<polygon points="741.4,51.9 743.5,47.9 745.6,51.9" fill="#fff"/>
<text x="741.0" y="52" font-size="7.4" font-weight="bold" fill="#fff" text-anchor="end" >25</text>
<polygon points="755.4,47.9 759.6,47.9 757.5,51.9" fill="#fff"/>
<text x="760.2" y="52" font-size="7.4" font-weight="bold" fill="#fff" text-anchor="start" >26</text>
<rect x="773.55" y="61.6" width="8.4" height="4.6" fill="#cacaca" stroke="#a4a4a4" stroke-width="0.6"/>
<rect x="803.55" y="61.6" width="8.3" height="4.6" fill="#cacaca" stroke="#a4a4a4" stroke-width="0.6"/>
<path d="M786.15,58.9 H799.55 V61.6 H803.25 V66.9 H811.05 V75.0 H809.35 V80.8 H811.05 V89.0 H774.65 V80.8 H776.35 V75.0 H774.65 V66.9 H782.85 V61.6 H786.15 Z" fill="#262626"/>
<rect x="780.95" y="79.2" width="1.2" height="9.8" fill="url(#pinT)"/>
<rect x="784.12" y="79.2" width="1.2" height="9.8" fill="url(#pinT)"/>
<rect x="787.29" y="79.2" width="1.2" height="9.8" fill="url(#pinT)"/>
<rect x="790.46" y="79.2" width="1.2" height="9.8" fill="url(#pinT)"/>
<rect x="793.63" y="79.2" width="1.2" height="9.8" fill="url(#pinT)"/>
<rect x="796.8" y="79.2" width="1.2" height="9.8" fill="url(#pinT)"/>
<rect x="799.97" y="79.2" width="1.2" height="9.8" fill="url(#pinT)"/>
<rect x="803.14" y="79.2" width="1.2" height="9.8" fill="url(#pinT)"/>
<path d="M774.65,103 H811.05 V111.6 H809.35 V117.2 H811.05 V124.4 H803.05 V130 H799.45 V132.8 H786.15 V130 H782.85 V124.4 H774.65 V117.2 H776.35 V111.6 H774.65 Z" fill="#262626"/>
<rect x="780.95" y="103" width="1.2" height="9.2" fill="url(#pinB)"/>
<rect x="784.12" y="103" width="1.2" height="9.2" fill="url(#pinB)"/>
<rect x="787.29" y="103" width="1.2" height="9.2" fill="url(#pinB)"/>
<rect x="790.46" y="103" width="1.2" height="9.2" fill="url(#pinB)"/>
<rect x="793.63" y="103" width="1.2" height="9.2" fill="url(#pinB)"/>
<rect x="796.8" y="103" width="1.2" height="9.2" fill="url(#pinB)"/>
<rect x="799.97" y="103" width="1.2" height="9.2" fill="url(#pinB)"/>
<rect x="803.14" y="103" width="1.2" height="9.2" fill="url(#pinB)"/>
<polygon points="783.95,51.9 786.05,47.9 788.15,51.9" fill="#fff"/>
<text x="783.55" y="52" font-size="7.4" font-weight="bold" fill="#fff" text-anchor="end" >27</text>
<polygon points="797.95,47.9 802.15,47.9 800.05,51.9" fill="#fff"/>
<text x="802.75" y="52" font-size="7.4" font-weight="bold" fill="#fff" text-anchor="start" >28</text>
<rect x="816.1" y="61.6" width="8.4" height="4.6" fill="#cacaca" stroke="#a4a4a4" stroke-width="0.6"/>
<rect x="846.1" y="61.6" width="8.3" height="4.6" fill="#cacaca" stroke="#a4a4a4" stroke-width="0.6"/>
<path d="M828.7,58.9 H842.1 V61.6 H845.8 V66.9 H853.6 V75.0 H851.9 V80.8 H853.6 V89.0 H817.2 V80.8 H818.9 V75.0 H817.2 V66.9 H825.4 V61.6 H828.7 Z" fill="#262626"/>
<rect x="823.5" y="79.2" width="1.2" height="9.8" fill="url(#pinT)"/>
<rect x="826.67" y="79.2" width="1.2" height="9.8" fill="url(#pinT)"/>
<rect x="829.84" y="79.2" width="1.2" height="9.8" fill="url(#pinT)"/>
<rect x="833.01" y="79.2" width="1.2" height="9.8" fill="url(#pinT)"/>
<rect x="836.18" y="79.2" width="1.2" height="9.8" fill="url(#pinT)"/>
<rect x="839.35" y="79.2" width="1.2" height="9.8" fill="url(#pinT)"/>
<rect x="842.52" y="79.2" width="1.2" height="9.8" fill="url(#pinT)"/>
<rect x="845.69" y="79.2" width="1.2" height="9.8" fill="url(#pinT)"/>
<path d="M817.2,103 H853.6 V111.6 H851.9 V117.2 H853.6 V124.4 H845.6 V130 H842.0 V132.8 H828.7 V130 H825.4 V124.4 H817.2 V117.2 H818.9 V111.6 H817.2 Z" fill="#262626"/>
<rect x="823.5" y="103" width="1.2" height="9.2" fill="url(#pinB)"/>
<rect x="826.67" y="103" width="1.2" height="9.2" fill="url(#pinB)"/>
<rect x="829.84" y="103" width="1.2" height="9.2" fill="url(#pinB)"/>
<rect x="833.01" y="103" width="1.2" height="9.2" fill="url(#pinB)"/>
<rect x="836.18" y="103" width="1.2" height="9.2" fill="url(#pinB)"/>
<rect x="839.35" y="103" width="1.2" height="9.2" fill="url(#pinB)"/>
<rect x="842.52" y="103" width="1.2" height="9.2" fill="url(#pinB)"/>
<rect x="845.69" y="103" width="1.2" height="9.2" fill="url(#pinB)"/>
<polygon points="826.5,51.9 828.6,47.9 830.7,51.9" fill="#fff"/>
<text x="826.1" y="52" font-size="7.4" font-weight="bold" fill="#fff" text-anchor="end" >29</text>
<polygon points="840.5,47.9 844.7,47.9 842.6,51.9" fill="#fff"/>
<text x="845.3" y="52" font-size="7.4" font-weight="bold" fill="#fff" text-anchor="start" >30</text>
<rect x="858.65" y="61.6" width="8.4" height="4.6" fill="#cacaca" stroke="#a4a4a4" stroke-width="0.6"/>
<rect x="888.65" y="61.6" width="8.3" height="4.6" fill="#cacaca" stroke="#a4a4a4" stroke-width="0.6"/>
<path d="M871.25,58.9 H884.65 V61.6 H888.35 V66.9 H896.15 V75.0 H894.45 V80.8 H896.15 V89.0 H859.75 V80.8 H861.45 V75.0 H859.75 V66.9 H867.95 V61.6 H871.25 Z" fill="#262626"/>
<rect x="866.05" y="79.2" width="1.2" height="9.8" fill="url(#pinT)"/>
<rect x="869.22" y="79.2" width="1.2" height="9.8" fill="url(#pinT)"/>
<rect x="872.39" y="79.2" width="1.2" height="9.8" fill="url(#pinT)"/>
<rect x="875.56" y="79.2" width="1.2" height="9.8" fill="url(#pinT)"/>
<rect x="878.73" y="79.2" width="1.2" height="9.8" fill="url(#pinT)"/>
<rect x="881.9" y="79.2" width="1.2" height="9.8" fill="url(#pinT)"/>
<rect x="885.07" y="79.2" width="1.2" height="9.8" fill="url(#pinT)"/>
<rect x="888.24" y="79.2" width="1.2" height="9.8" fill="url(#pinT)"/>
<path d="M859.75,103 H896.15 V111.6 H894.45 V117.2 H896.15 V124.4 H888.15 V130 H884.55 V132.8 H871.25 V130 H867.95 V124.4 H859.75 V117.2 H861.45 V111.6 H859.75 Z" fill="#262626"/>
<rect x="866.05" y="103" width="1.2" height="9.2" fill="url(#pinB)"/>
<rect x="869.22" y="103" width="1.2" height="9.2" fill="url(#pinB)"/>
<rect x="872.39" y="103" width="1.2" height="9.2" fill="url(#pinB)"/>
<rect x="875.56" y="103" width="1.2" height="9.2" fill="url(#pinB)"/>
<rect x="878.73" y="103" width="1.2" height="9.2" fill="url(#pinB)"/>
<rect x="881.9" y="103" width="1.2" height="9.2" fill="url(#pinB)"/>
<rect x="885.07" y="103" width="1.2" height="9.2" fill="url(#pinB)"/>
<rect x="888.24" y="103" width="1.2" height="9.2" fill="url(#pinB)"/>
<polygon points="869.05,51.9 871.15,47.9 873.25,51.9" fill="#fff"/>
<text x="868.65" y="52" font-size="7.4" font-weight="bold" fill="#fff" text-anchor="end" >31</text>
<polygon points="883.05,47.9 887.25,47.9 885.15,51.9" fill="#fff"/>
<text x="887.85" y="52" font-size="7.4" font-weight="bold" fill="#fff" text-anchor="start" >32</text>
<rect x="901.2" y="61.6" width="8.4" height="4.6" fill="#cacaca" stroke="#a4a4a4" stroke-width="0.6"/>
<rect x="931.2" y="61.6" width="8.3" height="4.6" fill="#cacaca" stroke="#a4a4a4" stroke-width="0.6"/>
<path d="M913.8,58.9 H927.2 V61.6 H930.9 V66.9 H938.7 V75.0 H937.0 V80.8 H938.7 V89.0 H902.3 V80.8 H904.0 V75.0 H902.3 V66.9 H910.5 V61.6 H913.8 Z" fill="#262626"/>
<rect x="908.6" y="79.2" width="1.2" height="9.8" fill="url(#pinT)"/>
<rect x="911.77" y="79.2" width="1.2" height="9.8" fill="url(#pinT)"/>
<rect x="914.94" y="79.2" width="1.2" height="9.8" fill="url(#pinT)"/>
<rect x="918.11" y="79.2" width="1.2" height="9.8" fill="url(#pinT)"/>
<rect x="921.28" y="79.2" width="1.2" height="9.8" fill="url(#pinT)"/>
<rect x="924.45" y="79.2" width="1.2" height="9.8" fill="url(#pinT)"/>
<rect x="927.62" y="79.2" width="1.2" height="9.8" fill="url(#pinT)"/>
<rect x="930.79" y="79.2" width="1.2" height="9.8" fill="url(#pinT)"/>
<path d="M902.3,103 H938.7 V111.6 H937.0 V117.2 H938.7 V124.4 H930.7 V130 H927.1 V132.8 H913.8 V130 H910.5 V124.4 H902.3 V117.2 H904.0 V111.6 H902.3 Z" fill="#262626"/>
<rect x="908.6" y="103" width="1.2" height="9.2" fill="url(#pinB)"/>
<rect x="911.77" y="103" width="1.2" height="9.2" fill="url(#pinB)"/>
<rect x="914.94" y="103" width="1.2" height="9.2" fill="url(#pinB)"/>
<rect x="918.11" y="103" width="1.2" height="9.2" fill="url(#pinB)"/>
<rect x="921.28" y="103" width="1.2" height="9.2" fill="url(#pinB)"/>
<rect x="924.45" y="103" width="1.2" height="9.2" fill="url(#pinB)"/>
<rect x="927.62" y="103" width="1.2" height="9.2" fill="url(#pinB)"/>
<rect x="930.79" y="103" width="1.2" height="9.2" fill="url(#pinB)"/>
<polygon points="911.6,51.9 913.7,47.9 915.8,51.9" fill="#fff"/>
<text x="911.2" y="52" font-size="7.4" font-weight="bold" fill="#fff" text-anchor="end" >33</text>
<polygon points="925.6,47.9 929.8,47.9 927.7,51.9" fill="#fff"/>
<text x="930.4" y="52" font-size="7.4" font-weight="bold" fill="#fff" text-anchor="start" >34</text>
<rect x="943.75" y="61.6" width="8.4" height="4.6" fill="#cacaca" stroke="#a4a4a4" stroke-width="0.6"/>
<rect x="973.75" y="61.6" width="8.3" height="4.6" fill="#cacaca" stroke="#a4a4a4" stroke-width="0.6"/>
<path d="M956.35,58.9 H969.75 V61.6 H973.45 V66.9 H981.25 V75.0 H979.55 V80.8 H981.25 V89.0 H944.85 V80.8 H946.55 V75.0 H944.85 V66.9 H953.05 V61.6 H956.35 Z" fill="#262626"/>
<rect x="951.15" y="79.2" width="1.2" height="9.8" fill="url(#pinT)"/>
<rect x="954.32" y="79.2" width="1.2" height="9.8" fill="url(#pinT)"/>
<rect x="957.49" y="79.2" width="1.2" height="9.8" fill="url(#pinT)"/>
<rect x="960.66" y="79.2" width="1.2" height="9.8" fill="url(#pinT)"/>
<rect x="963.83" y="79.2" width="1.2" height="9.8" fill="url(#pinT)"/>
<rect x="967.0" y="79.2" width="1.2" height="9.8" fill="url(#pinT)"/>
<rect x="970.17" y="79.2" width="1.2" height="9.8" fill="url(#pinT)"/>
<rect x="973.34" y="79.2" width="1.2" height="9.8" fill="url(#pinT)"/>
<path d="M944.85,103 H981.25 V111.6 H979.55 V117.2 H981.25 V124.4 H973.25 V130 H969.65 V132.8 H956.35 V130 H953.05 V124.4 H944.85 V117.2 H946.55 V111.6 H944.85 Z" fill="#262626"/>
<rect x="951.15" y="103" width="1.2" height="9.2" fill="url(#pinB)"/>
<rect x="954.32" y="103" width="1.2" height="9.2" fill="url(#pinB)"/>
<rect x="957.49" y="103" width="1.2" height="9.2" fill="url(#pinB)"/>
<rect x="960.66" y="103" width="1.2" height="9.2" fill="url(#pinB)"/>
<rect x="963.83" y="103" width="1.2" height="9.2" fill="url(#pinB)"/>
<rect x="967.0" y="103" width="1.2" height="9.2" fill="url(#pinB)"/>
<rect x="970.17" y="103" width="1.2" height="9.2" fill="url(#pinB)"/>
<rect x="973.34" y="103" width="1.2" height="9.2" fill="url(#pinB)"/>
<polygon points="954.15,51.9 956.25,47.9 958.35,51.9" fill="#fff"/>
<text x="953.75" y="52" font-size="7.4" font-weight="bold" fill="#fff" text-anchor="end" >35</text>
<polygon points="968.15,47.9 972.35,47.9 970.25,51.9" fill="#fff"/>
<text x="972.95" y="52" font-size="7.4" font-weight="bold" fill="#fff" text-anchor="start" >36</text>
<rect x="995.9" y="56" width="266.85" height="79.5" fill="#575757"/>
<rect x="996.9" y="57" width="264.85" height="77.5" fill="#3e3e3e"/>
<rect x="997.4" y="58" width="263.85" height="75.5" fill="#f4f4f4"/>
<rect x="998.6" y="59.2" width="262.65" height="74.3" fill="#e9e9e9"/>
<rect x="1261.55" y="56" width="2.6" height="80" fill="#8a8a8a"/>
<rect x="1263.85" y="56" width="0.8" height="80" fill="#5e5e5e"/>
<path d="M1261.75,56.5 h2.4 v2 z" fill="#111"/>
<rect x="1003.8" y="61.6" width="8.4" height="4.6" fill="#cacaca" stroke="#a4a4a4" stroke-width="0.6"/>
<rect x="1033.8" y="61.6" width="8.3" height="4.6" fill="#cacaca" stroke="#a4a4a4" stroke-width="0.6"/>
<path d="M1016.4,58.9 H1029.8 V61.6 H1033.5 V66.9 H1041.3 V75.0 H1039.6 V80.8 H1041.3 V89.0 H1004.9 V80.8 H1006.6 V75.0 H1004.9 V66.9 H1013.1 V61.6 H1016.4 Z" fill="#262626"/>
<rect x="1011.2" y="79.2" width="1.2" height="9.8" fill="url(#pinT)"/>
<rect x="1014.37" y="79.2" width="1.2" height="9.8" fill="url(#pinT)"/>
<rect x="1017.54" y="79.2" width="1.2" height="9.8" fill="url(#pinT)"/>
<rect x="1020.71" y="79.2" width="1.2" height="9.8" fill="url(#pinT)"/>
<rect x="1023.88" y="79.2" width="1.2" height="9.8" fill="url(#pinT)"/>
<rect x="1027.05" y="79.2" width="1.2" height="9.8" fill="url(#pinT)"/>
<rect x="1030.22" y="79.2" width="1.2" height="9.8" fill="url(#pinT)"/>
<rect x="1033.39" y="79.2" width="1.2" height="9.8" fill="url(#pinT)"/>
<path d="M1004.9,103 H1041.3 V111.6 H1039.6 V117.2 H1041.3 V124.4 H1033.3 V130 H1029.7 V132.8 H1016.4 V130 H1013.1 V124.4 H1004.9 V117.2 H1006.6 V111.6 H1004.9 Z" fill="#262626"/>
<rect x="1011.2" y="103" width="1.2" height="9.2" fill="url(#pinB)"/>
<rect x="1014.37" y="103" width="1.2" height="9.2" fill="url(#pinB)"/>
<rect x="1017.54" y="103" width="1.2" height="9.2" fill="url(#pinB)"/>
<rect x="1020.71" y="103" width="1.2" height="9.2" fill="url(#pinB)"/>
<rect x="1023.88" y="103" width="1.2" height="9.2" fill="url(#pinB)"/>
<rect x="1027.05" y="103" width="1.2" height="9.2" fill="url(#pinB)"/>
<rect x="1030.22" y="103" width="1.2" height="9.2" fill="url(#pinB)"/>
<rect x="1033.39" y="103" width="1.2" height="9.2" fill="url(#pinB)"/>
<polygon points="1014.2,51.9 1016.3,47.9 1018.4,51.9" fill="#fff"/>
<text x="1013.8" y="52" font-size="7.4" font-weight="bold" fill="#fff" text-anchor="end" >37</text>
<polygon points="1028.2,47.9 1032.4,47.9 1030.3,51.9" fill="#fff"/>
<text x="1033.0" y="52" font-size="7.4" font-weight="bold" fill="#fff" text-anchor="start" >38</text>
<rect x="1046.35" y="61.6" width="8.4" height="4.6" fill="#cacaca" stroke="#a4a4a4" stroke-width="0.6"/>
<rect x="1076.35" y="61.6" width="8.3" height="4.6" fill="#cacaca" stroke="#a4a4a4" stroke-width="0.6"/>
<path d="M1058.95,58.9 H1072.35 V61.6 H1076.05 V66.9 H1083.85 V75.0 H1082.15 V80.8 H1083.85 V89.0 H1047.45 V80.8 H1049.15 V75.0 H1047.45 V66.9 H1055.65 V61.6 H1058.95 Z" fill="#262626"/>
<rect x="1053.75" y="79.2" width="1.2" height="9.8" fill="url(#pinT)"/>
<rect x="1056.92" y="79.2" width="1.2" height="9.8" fill="url(#pinT)"/>
<rect x="1060.09" y="79.2" width="1.2" height="9.8" fill="url(#pinT)"/>
<rect x="1063.26" y="79.2" width="1.2" height="9.8" fill="url(#pinT)"/>
<rect x="1066.43" y="79.2" width="1.2" height="9.8" fill="url(#pinT)"/>
<rect x="1069.6" y="79.2" width="1.2" height="9.8" fill="url(#pinT)"/>
<rect x="1072.77" y="79.2" width="1.2" height="9.8" fill="url(#pinT)"/>
<rect x="1075.94" y="79.2" width="1.2" height="9.8" fill="url(#pinT)"/>
<path d="M1047.45,103 H1083.85 V111.6 H1082.15 V117.2 H1083.85 V124.4 H1075.85 V130 H1072.25 V132.8 H1058.95 V130 H1055.65 V124.4 H1047.45 V117.2 H1049.15 V111.6 H1047.45 Z" fill="#262626"/>
<rect x="1053.75" y="103" width="1.2" height="9.2" fill="url(#pinB)"/>
<rect x="1056.92" y="103" width="1.2" height="9.2" fill="url(#pinB)"/>
<rect x="1060.09" y="103" width="1.2" height="9.2" fill="url(#pinB)"/>
<rect x="1063.26" y="103" width="1.2" height="9.2" fill="url(#pinB)"/>
<rect x="1066.43" y="103" width="1.2" height="9.2" fill="url(#pinB)"/>
<rect x="1069.6" y="103" width="1.2" height="9.2" fill="url(#pinB)"/>
<rect x="1072.77" y="103" width="1.2" height="9.2" fill="url(#pinB)"/>
<rect x="1075.94" y="103" width="1.2" height="9.2" fill="url(#pinB)"/>
<polygon points="1056.75,51.9 1058.85,47.9 1060.95,51.9" fill="#fff"/>
<text x="1056.35" y="52" font-size="7.4" font-weight="bold" fill="#fff" text-anchor="end" >39</text>
<polygon points="1070.75,47.9 1074.95,47.9 1072.85,51.9" fill="#fff"/>
<text x="1075.55" y="52" font-size="7.4" font-weight="bold" fill="#fff" text-anchor="start" >40</text>
<rect x="1088.9" y="61.6" width="8.4" height="4.6" fill="#cacaca" stroke="#a4a4a4" stroke-width="0.6"/>
<rect x="1118.9" y="61.6" width="8.3" height="4.6" fill="#cacaca" stroke="#a4a4a4" stroke-width="0.6"/>
<path d="M1101.5,58.9 H1114.9 V61.6 H1118.6 V66.9 H1126.4 V75.0 H1124.7 V80.8 H1126.4 V89.0 H1090.0 V80.8 H1091.7 V75.0 H1090.0 V66.9 H1098.2 V61.6 H1101.5 Z" fill="#262626"/>
<rect x="1096.3" y="79.2" width="1.2" height="9.8" fill="url(#pinT)"/>
<rect x="1099.47" y="79.2" width="1.2" height="9.8" fill="url(#pinT)"/>
<rect x="1102.64" y="79.2" width="1.2" height="9.8" fill="url(#pinT)"/>
<rect x="1105.81" y="79.2" width="1.2" height="9.8" fill="url(#pinT)"/>
<rect x="1108.98" y="79.2" width="1.2" height="9.8" fill="url(#pinT)"/>
<rect x="1112.15" y="79.2" width="1.2" height="9.8" fill="url(#pinT)"/>
<rect x="1115.32" y="79.2" width="1.2" height="9.8" fill="url(#pinT)"/>
<rect x="1118.49" y="79.2" width="1.2" height="9.8" fill="url(#pinT)"/>
<path d="M1090.0,103 H1126.4 V111.6 H1124.7 V117.2 H1126.4 V124.4 H1118.4 V130 H1114.8 V132.8 H1101.5 V130 H1098.2 V124.4 H1090.0 V117.2 H1091.7 V111.6 H1090.0 Z" fill="#262626"/>
<rect x="1096.3" y="103" width="1.2" height="9.2" fill="url(#pinB)"/>
<rect x="1099.47" y="103" width="1.2" height="9.2" fill="url(#pinB)"/>
<rect x="1102.64" y="103" width="1.2" height="9.2" fill="url(#pinB)"/>
<rect x="1105.81" y="103" width="1.2" height="9.2" fill="url(#pinB)"/>
<rect x="1108.98" y="103" width="1.2" height="9.2" fill="url(#pinB)"/>
<rect x="1112.15" y="103" width="1.2" height="9.2" fill="url(#pinB)"/>
<rect x="1115.32" y="103" width="1.2" height="9.2" fill="url(#pinB)"/>
<rect x="1118.49" y="103" width="1.2" height="9.2" fill="url(#pinB)"/>
<polygon points="1099.3,51.9 1101.4,47.9 1103.5,51.9" fill="#fff"/>
<text x="1098.9" y="52" font-size="7.4" font-weight="bold" fill="#fff" text-anchor="end" >41</text>
<polygon points="1113.3,47.9 1117.5,47.9 1115.4,51.9" fill="#fff"/>
<text x="1118.1" y="52" font-size="7.4" font-weight="bold" fill="#fff" text-anchor="start" >42</text>
<rect x="1131.45" y="61.6" width="8.4" height="4.6" fill="#cacaca" stroke="#a4a4a4" stroke-width="0.6"/>
<rect x="1161.45" y="61.6" width="8.3" height="4.6" fill="#cacaca" stroke="#a4a4a4" stroke-width="0.6"/>
<path d="M1144.05,58.9 H1157.45 V61.6 H1161.15 V66.9 H1168.95 V75.0 H1167.25 V80.8 H1168.95 V89.0 H1132.55 V80.8 H1134.25 V75.0 H1132.55 V66.9 H1140.75 V61.6 H1144.05 Z" fill="#262626"/>
<rect x="1138.85" y="79.2" width="1.2" height="9.8" fill="url(#pinT)"/>
<rect x="1142.02" y="79.2" width="1.2" height="9.8" fill="url(#pinT)"/>
<rect x="1145.19" y="79.2" width="1.2" height="9.8" fill="url(#pinT)"/>
<rect x="1148.36" y="79.2" width="1.2" height="9.8" fill="url(#pinT)"/>
<rect x="1151.53" y="79.2" width="1.2" height="9.8" fill="url(#pinT)"/>
<rect x="1154.7" y="79.2" width="1.2" height="9.8" fill="url(#pinT)"/>
<rect x="1157.87" y="79.2" width="1.2" height="9.8" fill="url(#pinT)"/>
<rect x="1161.04" y="79.2" width="1.2" height="9.8" fill="url(#pinT)"/>
<path d="M1132.55,103 H1168.95 V111.6 H1167.25 V117.2 H1168.95 V124.4 H1160.95 V130 H1157.35 V132.8 H1144.05 V130 H1140.75 V124.4 H1132.55 V117.2 H1134.25 V111.6 H1132.55 Z" fill="#262626"/>
<rect x="1138.85" y="103" width="1.2" height="9.2" fill="url(#pinB)"/>
<rect x="1142.02" y="103" width="1.2" height="9.2" fill="url(#pinB)"/>
<rect x="1145.19" y="103" width="1.2" height="9.2" fill="url(#pinB)"/>
<rect x="1148.36" y="103" width="1.2" height="9.2" fill="url(#pinB)"/>
<rect x="1151.53" y="103" width="1.2" height="9.2" fill="url(#pinB)"/>
<rect x="1154.7" y="103" width="1.2" height="9.2" fill="url(#pinB)"/>
<rect x="1157.87" y="103" width="1.2" height="9.2" fill="url(#pinB)"/>
<rect x="1161.04" y="103" width="1.2" height="9.2" fill="url(#pinB)"/>
<polygon points="1141.85,51.9 1143.95,47.9 1146.05,51.9" fill="#fff"/>
<text x="1141.45" y="52" font-size="7.4" font-weight="bold" fill="#fff" text-anchor="end" >43</text>
<polygon points="1155.85,47.9 1160.05,47.9 1157.95,51.9" fill="#fff"/>
<text x="1160.65" y="52" font-size="7.4" font-weight="bold" fill="#fff" text-anchor="start" >44</text>
<rect x="1174" y="61.6" width="8.4" height="4.6" fill="#cacaca" stroke="#a4a4a4" stroke-width="0.6"/>
<rect x="1204" y="61.6" width="8.3" height="4.6" fill="#cacaca" stroke="#a4a4a4" stroke-width="0.6"/>
<path d="M1186.6,58.9 H1200 V61.6 H1203.7 V66.9 H1211.5 V75.0 H1209.8 V80.8 H1211.5 V89.0 H1175.1 V80.8 H1176.8 V75.0 H1175.1 V66.9 H1183.3 V61.6 H1186.6 Z" fill="#262626"/>
<rect x="1181.4" y="79.2" width="1.2" height="9.8" fill="url(#pinT)"/>
<rect x="1184.57" y="79.2" width="1.2" height="9.8" fill="url(#pinT)"/>
<rect x="1187.74" y="79.2" width="1.2" height="9.8" fill="url(#pinT)"/>
<rect x="1190.91" y="79.2" width="1.2" height="9.8" fill="url(#pinT)"/>
<rect x="1194.08" y="79.2" width="1.2" height="9.8" fill="url(#pinT)"/>
<rect x="1197.25" y="79.2" width="1.2" height="9.8" fill="url(#pinT)"/>
<rect x="1200.42" y="79.2" width="1.2" height="9.8" fill="url(#pinT)"/>
<rect x="1203.59" y="79.2" width="1.2" height="9.8" fill="url(#pinT)"/>
<path d="M1175.1,103 H1211.5 V111.6 H1209.8 V117.2 H1211.5 V124.4 H1203.5 V130 H1199.9 V132.8 H1186.6 V130 H1183.3 V124.4 H1175.1 V117.2 H1176.8 V111.6 H1175.1 Z" fill="#262626"/>
<rect x="1181.4" y="103" width="1.2" height="9.2" fill="url(#pinB)"/>
<rect x="1184.57" y="103" width="1.2" height="9.2" fill="url(#pinB)"/>
<rect x="1187.74" y="103" width="1.2" height="9.2" fill="url(#pinB)"/>
<rect x="1190.91" y="103" width="1.2" height="9.2" fill="url(#pinB)"/>
<rect x="1194.08" y="103" width="1.2" height="9.2" fill="url(#pinB)"/>
<rect x="1197.25" y="103" width="1.2" height="9.2" fill="url(#pinB)"/>
<rect x="1200.42" y="103" width="1.2" height="9.2" fill="url(#pinB)"/>
<rect x="1203.59" y="103" width="1.2" height="9.2" fill="url(#pinB)"/>
<polygon points="1184.4,51.9 1186.5,47.9 1188.6,51.9" fill="#fff"/>
<text x="1184" y="52" font-size="7.4" font-weight="bold" fill="#fff" text-anchor="end" >45</text>
<polygon points="1198.4,47.9 1202.6,47.9 1200.5,51.9" fill="#fff"/>
<text x="1203.2" y="52" font-size="7.4" font-weight="bold" fill="#fff" text-anchor="start" >46</text>
<rect x="1216.55" y="61.6" width="8.4" height="4.6" fill="#cacaca" stroke="#a4a4a4" stroke-width="0.6"/>
<rect x="1246.55" y="61.6" width="8.3" height="4.6" fill="#cacaca" stroke="#a4a4a4" stroke-width="0.6"/>
<path d="M1229.15,58.9 H1242.55 V61.6 H1246.25 V66.9 H1254.05 V75.0 H1252.35 V80.8 H1254.05 V89.0 H1217.65 V80.8 H1219.35 V75.0 H1217.65 V66.9 H1225.85 V61.6 H1229.15 Z" fill="#262626"/>
<rect x="1223.95" y="79.2" width="1.2" height="9.8" fill="url(#pinT)"/>
<rect x="1227.12" y="79.2" width="1.2" height="9.8" fill="url(#pinT)"/>
<rect x="1230.29" y="79.2" width="1.2" height="9.8" fill="url(#pinT)"/>
<rect x="1233.46" y="79.2" width="1.2" height="9.8" fill="url(#pinT)"/>
<rect x="1236.63" y="79.2" width="1.2" height="9.8" fill="url(#pinT)"/>
<rect x="1239.8" y="79.2" width="1.2" height="9.8" fill="url(#pinT)"/>
<rect x="1242.97" y="79.2" width="1.2" height="9.8" fill="url(#pinT)"/>
<rect x="1246.14" y="79.2" width="1.2" height="9.8" fill="url(#pinT)"/>
<path d="M1217.65,103 H1254.05 V111.6 H1252.35 V117.2 H1254.05 V124.4 H1246.05 V130 H1242.45 V132.8 H1229.15 V130 H1225.85 V124.4 H1217.65 V117.2 H1219.35 V111.6 H1217.65 Z" fill="#262626"/>
<rect x="1223.95" y="103" width="1.2" height="9.2" fill="url(#pinB)"/>
<rect x="1227.12" y="103" width="1.2" height="9.2" fill="url(#pinB)"/>
<rect x="1230.29" y="103" width="1.2" height="9.2" fill="url(#pinB)"/>
<rect x="1233.46" y="103" width="1.2" height="9.2" fill="url(#pinB)"/>
<rect x="1236.63" y="103" width="1.2" height="9.2" fill="url(#pinB)"/>
<rect x="1239.8" y="103" width="1.2" height="9.2" fill="url(#pinB)"/>
<rect x="1242.97" y="103" width="1.2" height="9.2" fill="url(#pinB)"/>
<rect x="1246.14" y="103" width="1.2" height="9.2" fill="url(#pinB)"/>
<polygon points="1226.95,51.9 1229.05,47.9 1231.15,51.9" fill="#fff"/>
<text x="1226.55" y="52" font-size="7.4" font-weight="bold" fill="#fff" text-anchor="end" >47</text>
<polygon points="1240.95,47.9 1245.15,47.9 1243.05,51.9" fill="#fff"/>
<text x="1245.75" y="52" font-size="7.4" font-weight="bold" fill="#fff" text-anchor="start" >48</text>
<rect x="288.7" y="140.9" width="50.5" height="10.1" fill="#f2e24a"/>
<text x="313.9" y="148.3" font-size="6.4" font-weight="normal" fill="#1a1a1a" text-anchor="middle" textLength="42" lengthAdjust="spacingAndGlyphs" stroke="#1a1a1a" stroke-width="0.25">48p 1G BASE-T</text>
<g stroke="#fff" stroke-width="1.1" fill="none"><rect x="547.7" y="143.5" width="4.8" height="3.8"/><path d="M545.1,145.4 h2.6 M552.5,145.4 h2.6 M550.1,141.1 v2.4 M550.1,147.3 v2.4 M545.9,141.9 l1.8,1.6 M554.3,141.9 l-1.8,1.6 M545.9,148.9 l1.8,-1.6 M554.3,148.9 l-1.8,-1.6"/></g>
<text x="558.7" y="147.8" font-size="6.8" font-weight="bold" fill="#fff" text-anchor="start" textLength="91.7" lengthAdjust="spacingAndGlyphs" >Spd: Flashing = Not Max Speed</text>
<rect x="682.4" y="143.2" width="5.6" height="4.9" fill="#fff"/>
<text x="695.6" y="147.8" font-size="6.8" font-weight="bold" fill="#fff" text-anchor="start" textLength="69.7" lengthAdjust="spacingAndGlyphs" >Spd: Solid = Max Speed</text>
<g stroke="#fff" stroke-width="1.1" fill="none"><rect x="1016.4" y="143.5" width="4.8" height="3.8"/><path d="M1013.8,145.4 h2.6 M1021.2,145.4 h2.6 M1018.8,141.1 v2.4 M1018.8,147.3 v2.4 M1014.6,141.9 l1.8,1.6 M1023.0,141.9 l-1.8,1.6 M1014.6,148.9 l1.8,-1.6 M1023.0,148.9 l-1.8,-1.6"/></g>
<text x="1026.8" y="147.8" font-size="6.8" font-weight="bold" fill="#fff" text-anchor="start" textLength="102.1" lengthAdjust="spacingAndGlyphs" >PoE: Flashing = Fault/Over Budget</text>
<rect x="1150.5" y="143.2" width="5.5" height="4.8" fill="#fff"/>
<text x="1163.8" y="147.8" font-size="6.8" font-weight="bold" fill="#fff" text-anchor="start" textLength="75.2" lengthAdjust="spacingAndGlyphs" >PoE: Solid = PoE Enabled</text>
<rect x="1271.9" y="63" width="10.2" height="7.2" fill="#333"/>
<path d="M1273.2,67.4 H1275.9 L1276.6,64.3 L1277.5,69.8 L1278.2,67.4 H1281.1" fill="none" stroke="#fff" stroke-width="1.1" stroke-linejoin="round"/>
<rect x="1271.5" y="78.0" width="11" height="7.6" fill="#3c3c3c"/>
<text x="1277.2" y="84.7" font-size="7" font-weight="bold" fill="#fff" text-anchor="middle" textLength="9.5" lengthAdjust="spacingAndGlyphs" >UID</text>
<rect x="1271.5" y="93.5" width="11" height="7.6" fill="#3c3c3c"/>
<text x="1277.2" y="100.2" font-size="7" font-weight="bold" fill="#fff" text-anchor="middle" textLength="9.5" lengthAdjust="spacingAndGlyphs" >Spd</text>
<rect x="1271.5" y="108.3" width="11" height="7.6" fill="#3c3c3c"/>
<text x="1277.2" y="115" font-size="7" font-weight="bold" fill="#fff" text-anchor="middle" textLength="9.5" lengthAdjust="spacingAndGlyphs" >PoE</text>
<text x="1302" y="89.6" font-size="6.6" font-weight="bold" fill="#fff" text-anchor="middle" textLength="22" lengthAdjust="spacingAndGlyphs" >Aux Port</text>
<rect x="1293.6" y="93.3" width="18" height="40.3" fill="#222" stroke="#d2d2d2" stroke-width="1"/>
<rect x="1295.2" y="94.9" width="14.8" height="37.1" fill="#26262a" stroke="#3a3a3a" stroke-width="0.8"/>
<rect x="1296.5" y="96" width="6.5" height="34" fill="#6a6a60"/>
<rect x="1302.2" y="101.1" width="1.9" height="2.8" fill="#d6cc94"/>
<rect x="1302.2" y="109.1" width="1.9" height="2.8" fill="#d6cc94"/>
<rect x="1302.2" y="115.8" width="1.9" height="2.8" fill="#d6cc94"/>
<rect x="1302.2" y="122.4" width="1.9" height="2.8" fill="#d6cc94"/>
<text x="1330.5" y="109.6" font-size="6.6" font-weight="bold" fill="#fff" text-anchor="middle" textLength="11" lengthAdjust="spacingAndGlyphs" >LED</text>
<text x="1330.5" y="116.2" font-size="6.6" font-weight="bold" fill="#fff" text-anchor="middle" textLength="14" lengthAdjust="spacingAndGlyphs" >Mode</text>
<circle cx="1330.4" cy="122.8" r="4.6" fill="#4a4a4a" stroke="#1e1e1e" stroke-width="1.1"/>
<text x="1330.5" y="137.6" font-size="6.6" font-weight="bold" fill="#fff" text-anchor="middle" textLength="21" lengthAdjust="spacingAndGlyphs" >Console</text>
<rect x="1316.6" y="140.4" width="26.8" height="9.8" rx="4" fill="#1f1f1f" stroke="#d6d6d6" stroke-width="0.9"/>
<rect x="1318.3" y="142.1" width="23.4" height="6.4" rx="3" fill="#232323" stroke="#b8b8b8" stroke-width="0.7"/>
<rect x="1320" y="144.3" width="20.5" height="2.2" rx="1" fill="#8a8a80"/>
<circle cx="1302" cy="142.4" r="1.3" fill="#222"/>
<text x="1302" y="151" font-size="6.6" font-weight="bold" fill="#fff" text-anchor="middle" textLength="15" lengthAdjust="spacingAndGlyphs" >Reset</text>
<rect x="1326.5" y="36.1" width="25.3" height="6.6" fill="#4d5753" stroke="#3a9f7b" stroke-width="2.2"/>
<text x="1341.3" y="56.4" font-size="10" font-weight="bold" fill="#fff" text-anchor="middle" textLength="21.6" lengthAdjust="spacingAndGlyphs" stroke="#fff" stroke-width="0.25">6000</text>
<rect x="17.5" y="327.5" width="1345.0" height="132.9" rx="3" fill="#414141"/>
<rect x="17.5" y="458.9" width="1345.0" height="1.5" fill="#1e1e1e"/>
<rect x="18.5" y="327.5" width="1343.0" height="1.2" fill="#1c1c1c"/>
<rect x="17.5" y="327.5" width="1" height="132.9" fill="#2e2e2e"/>
<rect x="20.3" y="330.5" width="1" height="127.9" fill="#4a4a4a"/>
<rect x="21.6" y="330.5" width="0.9" height="127.9" fill="#323232"/>
<rect x="1357.8" y="330.5" width="0.9" height="127.9" fill="#2e2e2e"/>
<rect x="1361.0" y="327.5" width="1.5" height="132.9" fill="#2a2a2a"/>
<rect x="21.2" y="355" width="1.6" height="4" fill="#111"/>
<rect x="1357.5" y="355" width="2" height="4" fill="#111"/>
<rect x="21.2" y="433.4" width="1.6" height="4" fill="#111"/>
<rect x="1357.5" y="433.4" width="2" height="4" fill="#111"/>
<circle cx="41.8" cy="445.4" r="8.8" fill="#383838"/>
<circle cx="41.8" cy="445.4" r="7.2" fill="#575757"/>
<circle cx="41.8" cy="445.4" r="6.0" fill="none" stroke="#5e5e5e" stroke-width="1"/>
<path d="M38.8,442.4 L44.8,448.4 M44.8,442.4 L38.8,448.4" stroke="#525252" stroke-width="0.9"/>
<circle cx="474.1" cy="445.4" r="8.8" fill="#383838"/>
<circle cx="474.1" cy="445.4" r="7.2" fill="#575757"/>
<circle cx="474.1" cy="445.4" r="6.0" fill="none" stroke="#5e5e5e" stroke-width="1"/>
<path d="M471.1,442.4 L477.1,448.4 M477.1,442.4 L471.1,448.4" stroke="#525252" stroke-width="0.9"/>
<circle cx="906" cy="445.4" r="8.8" fill="#383838"/>
<circle cx="906" cy="445.4" r="7.2" fill="#575757"/>
<circle cx="906" cy="445.4" r="6.0" fill="none" stroke="#5e5e5e" stroke-width="1"/>
<path d="M903,442.4 L909,448.4 M909,442.4 L903,448.4" stroke="#525252" stroke-width="0.9"/>
<circle cx="1337.5" cy="445.4" r="8.8" fill="#383838"/>
<circle cx="1337.5" cy="445.4" r="7.2" fill="#575757"/>
<circle cx="1337.5" cy="445.4" r="6.0" fill="none" stroke="#5e5e5e" stroke-width="1"/>
<path d="M1334.5,442.4 L1340.5,448.4 M1340.5,442.4 L1334.5,448.4" stroke="#525252" stroke-width="0.9"/>
<circle cx="183.8" cy="343.7" r="8.6" fill="#383838"/>
<circle cx="183.8" cy="343.7" r="7.0" fill="#575757"/>
<circle cx="183.8" cy="343.7" r="5.8" fill="none" stroke="#5e5e5e" stroke-width="1"/>
<path d="M180.8,340.7 L186.8,346.7 M186.8,340.7 L180.8,346.7" stroke="#525252" stroke-width="0.9"/>
<rect x="320" y="351.6" width="40" height="1.3" fill="#262626"/>
<rect x="320" y="360.6" width="40" height="1.3" fill="#262626"/>
<rect x="325" y="352.9" width="30" height="7.7" fill="#4b4b4b"/>
<rect x="320" y="352.9" width="5" height="7.7" fill="#464646"/>
<rect x="355" y="352.9" width="5" height="7.7" fill="#464646"/>
<rect x="1269" y="427.7" width="35" height="1.3" fill="#262626"/>
<rect x="1269" y="433.3" width="35" height="1.3" fill="#262626"/>
<rect x="1274" y="429.0" width="25" height="4.3" fill="#4b4b4b"/>
<rect x="1269" y="429.0" width="5" height="4.3" fill="#464646"/>
<rect x="1299" y="429.0" width="5" height="4.3" fill="#464646"/>
<circle cx="89.5" cy="405" r="15.5" fill="#e4e4e4"/>
<circle cx="89.5" cy="405" r="10.5" fill="none" stroke="#c8c8c8" stroke-width="0.8" stroke-dasharray="3 2.5"/>
<path d="M84.5,400 Q89.5,403 94.5,400 Q91.5,405 94.5,410 Q89.5,407 84.5,410 Q87.5,405 84.5,400 Z" fill="#b4b4b4"/>
<rect x="134.3" y="352.7" width="99.1" height="78.2" fill="#e2e2e2"/>
<rect x="137.1" y="356" width="93.2" height="71.6" rx="3" fill="#5a5a5a"/>
<path d="M162,364.1 H206 Q209.6,364.1 212,366.9 L222.8,379 Q225.2,381.8 225.2,385.5 V414.5 Q225.2,420.3 219.5,420.3 H148.3 Q142.6,420.3 142.6,414.5 V385.5 Q142.6,381.8 145,379 L155.8,366.9 Q158.2,364.1 162,364.1 Z" fill="#282828"/>
<rect x="181.2" y="375.8" width="5.5" height="15.9" fill="#c4c4c4" stroke="#8a8a8a" stroke-width="0.6"/>
<rect x="159.1" y="392.1" width="5.5" height="16.1" fill="#c4c4c4" stroke="#8a8a8a" stroke-width="0.6"/>
<rect x="203.2" y="392.1" width="5.5" height="16.1" fill="#c4c4c4" stroke="#8a8a8a" stroke-width="0.6"/>
<text x="656.6" y="178.9" font-size="13.5" font-weight="bold" fill="#000" text-anchor="start" textLength="66.3" lengthAdjust="spacingAndGlyphs" >Front View</text>
<text x="657.6" y="481.8" font-size="13.5" font-weight="bold" fill="#000" text-anchor="start" textLength="65.3" lengthAdjust="spacingAndGlyphs" >Back View</text>
</svg>

</body></html>
